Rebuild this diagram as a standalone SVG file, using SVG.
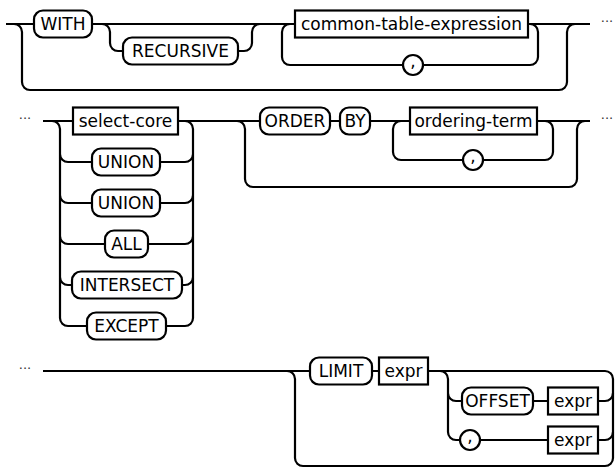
<svg xmlns="http://www.w3.org/2000/svg" width="615" height="469" viewBox="0 0 615 469">
<style>
.ln{fill:none;stroke:#000;stroke-width:2.2}
.nd{fill:#fff;stroke:#000;stroke-width:2.2}
.t{font-family:"DejaVu Sans",Verdana,sans-serif;font-size:17px;text-anchor:middle;fill:#000}
.d{font-family:"DejaVu Sans",sans-serif;font-size:13px;text-anchor:middle;fill:#333}
</style>
<rect width="615" height="469" fill="#fff"/>
<g id="connectors" class="ln">
<path d="M6,24 H34 M92,24 H295 M528,24 H590"/>
<path d="M14,24 A8,8 0 0 1 22,32 V82 A8,8 0 0 0 30,90 H559 A8,8 0 0 0 567,82 V32 A8,8 0 0 1 575,24"/>
<path d="M102,24 A8,8 0 0 1 110,32 V43 A8,8 0 0 0 118,51 H123 M238,51 H244 A8,8 0 0 0 252,43 V32 A8,8 0 0 1 260,24"/>
<path d="M530,24 A8,8 0 0 1 538,32 V57 A8,8 0 0 1 530,65 H423 M403,65 H290 A8,8 0 0 1 282,57 V32 A8,8 0 0 1 290,24"/>
<path d="M43,121 H73 M178,121 H260 M330,121 H340 M370,121 H410 M537,121 H590"/>
<path d="M52,121 A8,8 0 0 1 60,129 V318 A8,8 0 0 0 68,326 H87 M60,154 A8,8 0 0 0 68,162 H92 M60,195 A8,8 0 0 0 68,203 H92 M60,236 A8,8 0 0 0 68,244 H105 M60,277 A8,8 0 0 0 68,285 H72"/>
<path d="M185,121 A8,8 0 0 1 193,129 V318 A8,8 0 0 1 185,326 H166 M160,162 H185 A8,8 0 0 0 193,154 M160,203 H185 A8,8 0 0 0 193,195 M148,244 H185 A8,8 0 0 0 193,236 M182,285 H185 A8,8 0 0 0 193,277"/>
<path d="M237,121 A8,8 0 0 1 245,129 V179 A8,8 0 0 0 253,187 H569 A8,8 0 0 0 577,179 V129 A8,8 0 0 1 585,121"/>
<path d="M545,121 A8,8 0 0 1 553,129 V152 A8,8 0 0 1 545,160 H483 M463,160 H401 A8,8 0 0 1 393,152 V129 A8,8 0 0 1 401,121"/>
<path d="M43,371 H310 M372,371 H379 M428,371 H605 A8,8 0 0 1 613,379 V458 A8,8 0 0 1 605,466 H303 A8,8 0 0 1 295,458 V379 A8,8 0 0 0 287,371"/>
<path d="M440,371 A8,8 0 0 1 448,379 V432 A8,8 0 0 0 456,440 H460 M480,440 H548 M448,393 A8,8 0 0 0 456,401 H462 M533,401 H548 M598,401 H605 A8,8 0 0 0 613,393 M598,440 H605 A8,8 0 0 0 613,432"/>
</g>
<g id="dots">
<text class="d" x="25" y="119">...</text>
<text class="d" x="607" y="22">...</text>
<text class="d" x="607" y="119">...</text>
<text class="d" x="25" y="369">...</text>
</g>
<g id="with"><rect class="nd" x="34" y="10.5" width="58" height="27" rx="9"/><text class="t" x="63" y="30">WITH</text></g>
<g id="recursive"><rect class="nd" x="123" y="37.5" width="115" height="27" rx="9"/><text class="t" x="180.5" y="57">RECURSIVE</text></g>
<g id="cte"><rect class="nd" x="295" y="10.5" width="233" height="27"/><text class="t" x="411.5" y="30">common-table-expression</text></g>
<g id="comma1"><circle class="nd" cx="413" cy="65" r="10"/><text class="t" x="413" y="67">,</text></g>
<g id="select-core"><rect class="nd" x="73" y="107.5" width="105" height="27"/><text class="t" x="125.5" y="127">select-core</text></g>
<g id="union1"><rect class="nd" x="92" y="148.5" width="68" height="27" rx="9"/><text class="t" x="126" y="168">UNION</text></g>
<g id="union2"><rect class="nd" x="92" y="189.5" width="68" height="27" rx="9"/><text class="t" x="126" y="209">UNION</text></g>
<g id="all"><rect class="nd" x="105" y="230.5" width="43" height="27" rx="9"/><text class="t" x="126.5" y="250">ALL</text></g>
<g id="intersect"><rect class="nd" x="72" y="271.5" width="110" height="27" rx="9"/><text class="t" x="127" y="291">INTERSECT</text></g>
<g id="except"><rect class="nd" x="87" y="312.5" width="79" height="27" rx="9"/><text class="t" x="126.5" y="332">EXCEPT</text></g>
<g id="order"><rect class="nd" x="260" y="107.5" width="70" height="27" rx="9"/><text class="t" x="295" y="127">ORDER</text></g>
<g id="by"><rect class="nd" x="340" y="107.5" width="30" height="27" rx="9"/><text class="t" x="355" y="127">BY</text></g>
<g id="ordering-term"><rect class="nd" x="410" y="107.5" width="127" height="27"/><text class="t" x="473.5" y="127">ordering-term</text></g>
<g id="comma2"><circle class="nd" cx="473" cy="160" r="10"/><text class="t" x="473" y="162">,</text></g>
<g id="limit"><rect class="nd" x="310" y="357.5" width="62" height="27" rx="9"/><text class="t" x="341" y="377">LIMIT</text></g>
<g id="expr1"><rect class="nd" x="379" y="357.5" width="49" height="27"/><text class="t" x="403.5" y="377">expr</text></g>
<g id="offset"><rect class="nd" x="462" y="387.5" width="71" height="27" rx="9"/><text class="t" x="497.5" y="407">OFFSET</text></g>
<g id="expr2"><rect class="nd" x="548" y="387.5" width="50" height="27"/><text class="t" x="573" y="407">expr</text></g>
<g id="comma3"><circle class="nd" cx="470" cy="440" r="10"/><text class="t" x="470" y="442">,</text></g>
<g id="expr3"><rect class="nd" x="548" y="426.5" width="50" height="27"/><text class="t" x="573" y="446">expr</text></g>
</svg>
